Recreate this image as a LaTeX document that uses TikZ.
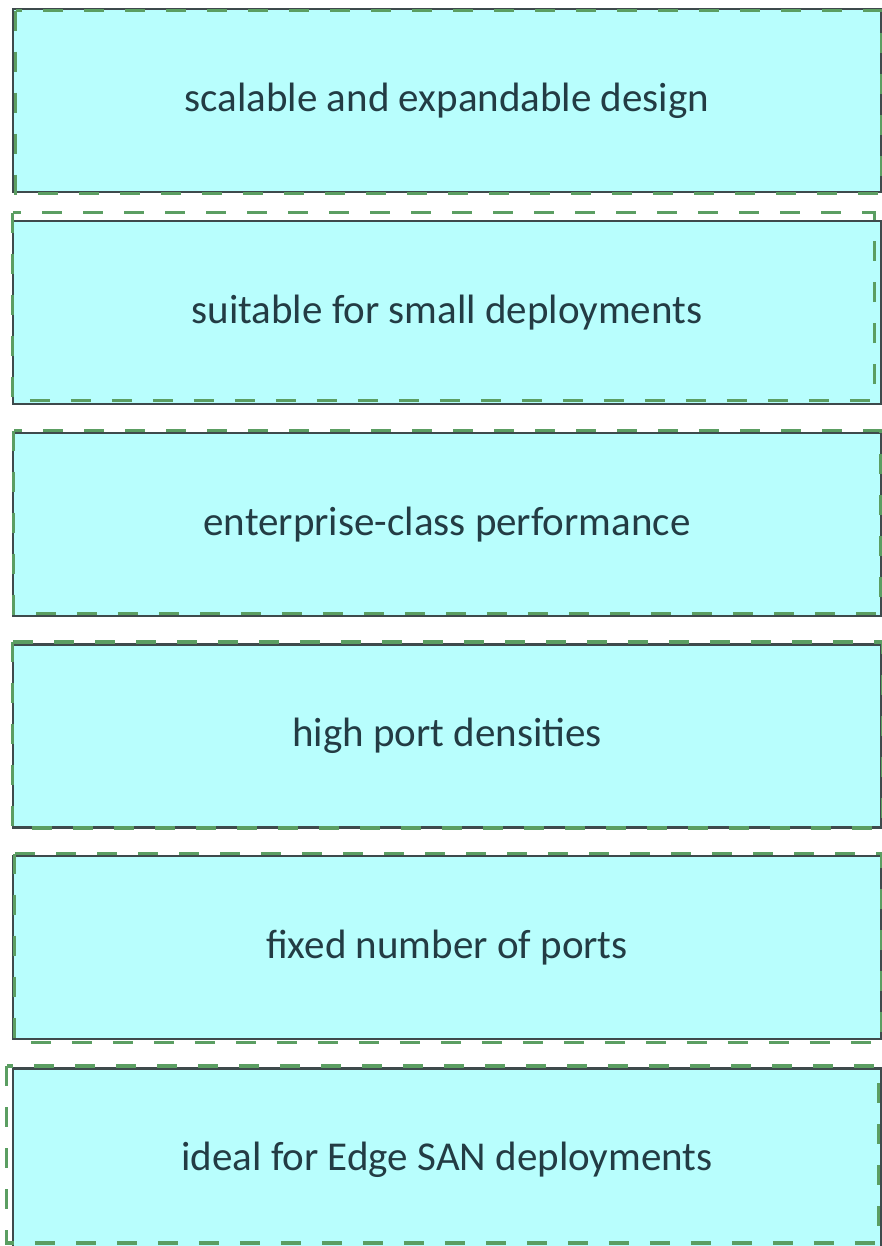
\documentclass[tikz,border=0pt]{standalone}
\usepackage{fontspec}
\setmainfont{Carlito}
\usepackage{xcolor}
\definecolor{boxfill}{HTML}{B8FEFD}
\definecolor{boxline}{HTML}{3E4A4C}
\definecolor{dashgreen}{HTML}{5B9E62}
\definecolor{textdark}{HTML}{233C44}

\begin{document}
\begin{tikzpicture}[x=1pt, y=-1pt,
    featbox/.style={rectangle, draw=boxline, fill=boxfill, line width=2.8pt,
        minimum width=868pt, minimum height=183pt, inner sep=0pt,
        text=textdark, font=\fontsize{41}{47}\selectfont},
    greendash/.style={draw=dashgreen, line width=3.6pt, dash pattern=on 20pt off 21pt}]

    \useasboundingbox (0,0) rectangle (882,1246);

    % Boxes
    \node[featbox] (b1) at (447, 100.5) {scalable and expandable design};
    \node[featbox] (b2) at (447, 312.5) {suitable for small deployments};
    \node[featbox] (b3) at (447, 524.5) {enterprise-class performance};
    \node[featbox] (b4) at (447, 736) {high port densities};
    \node[featbox] (b5) at (447, 947.5) {fixed number of ports};
    \node[featbox] (b6) at (447, 1160) {ideal for Edge SAN deployments};

    % Dashed outlines
    \draw[greendash] ([shift={(4,3)}]b1.north west) rectangle ([shift={(-1,0)}]b1.south east);
    \draw[greendash] ([shift={(1,-7)}]b2.north west) rectangle ([shift={(-8,-5)}]b2.south east);
    \draw[greendash] ([shift={(2,-1)}]b3.north west) rectangle ([shift={(-2,-4)}]b3.south east);
    \draw[greendash] ([shift={(1,-1)}]b4.north west) rectangle ([shift={(0,-1)}]b4.south east);
    \draw[greendash] ([shift={(3,-1)}]b5.north west) rectangle ([shift={(-1,2)}]b5.south east);
    \draw[greendash] ([shift={(-5,-1)}]b6.north west) rectangle ([shift={(-4,-10)}]b6.south east);

\end{tikzpicture}
\end{document}
